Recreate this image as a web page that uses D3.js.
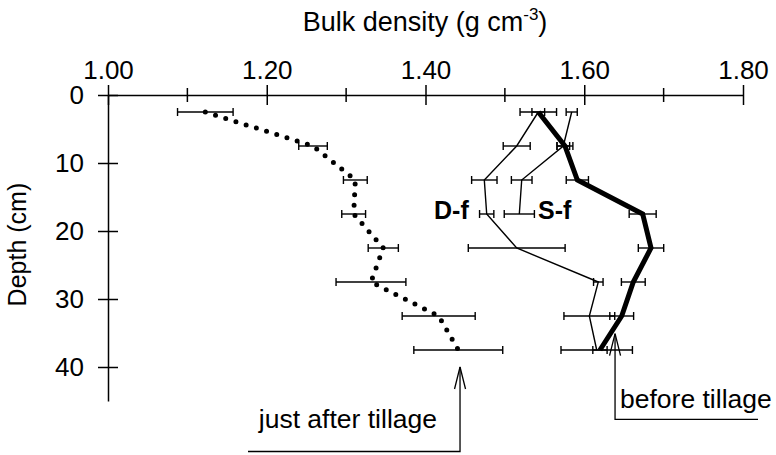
<!DOCTYPE html>
<head>
  <style>
    body { margin: 0; background: #fff; }
    text { font-family: "Liberation Sans", Arial, sans-serif; fill: #000; }
  </style>
<title>Bulk density by depth</title>
</head>

<body>

  <script type="text/javascript" src="https://cdn.jsdelivr.net/npm/d3@7/dist/d3.min.js"></script>

  <script type="text/javascript">
    // dimensions
    var w = 776;
    var h = 455;

    // data: depth (cm) and bulk density (g cm-3) with error (half width)
    var depths = [2.5, 7.5, 12.5, 17.5, 22.5, 27.5, 32.5, 37.5];

    var afterTillage = [1.1226, 1.2583, 1.3116, 1.3095, 1.3468, 1.3313, 1.4166, 1.4413];
    var afterErr     = [0.035, 0.018, 0.015, 0.015, 0.019, 0.044, 0.046, 0.056];

    var beforeTillage = [1.5421, 1.5757, 1.5913, 1.6736, 1.6841, 1.6618, 1.6472, 1.6198];
    var beforeErr     = [0.008, 0.010, 0.014, 0.017, 0.016, 0.015, 0.015, 0.009];

    var dfValues = [1.5421, 1.5149, 1.4741, 1.4771, 1.5149, 1.6177, 1.6064, 1.6157];
    var dfErr    = [0.023, 0.017, 0.016, 0.009, 0.061, 0.006, 0.032, 0.045];

    var sfDepths = [2.5, 7.5, 12.5, 17.5];
    var sfValues = [1.5842, 1.5736, 1.5212, 1.5182];
    var sfErr    = [0.007, 0.008, 0.013, 0.019];

    var xMajor = [1.0, 1.2, 1.4, 1.6, 1.8];
    var xMinor = [1.1, 1.3, 1.5, 1.7];
    var yTicks = [0, 10, 20, 30, 40];

    // scales
    var x = d3.scaleLinear().domain([1.0, 1.8]).range([108, 743]);
    var y = d3.scaleLinear().domain([0, 45]).range([95, 401]);

    var svg = d3.select("body")
                .append("svg")
                .attr("width", w)
                .attr("height", h);

    function zipSeries(ds, vals, errs) {
      return ds.map(function(d, i) { return {depth: d, value: vals[i], err: errs[i]}; });
    }

    var after = zipSeries(depths, afterTillage, afterErr);
    var before = zipSeries(depths, beforeTillage, beforeErr);
    var df = zipSeries(depths, dfValues, dfErr);
    var sf = zipSeries(sfDepths, sfValues, sfErr);

    // X axis on top, ticks crossing the line
    var xAxis = d3.axisTop(x)
                  .tickValues(xMajor)
                  .tickFormat(d3.format(".2f"))
                  .tickSize(10)
                  .tickSizeOuter(0)
                  .tickPadding(6);
    var gx = svg.append("g")
        .attr("transform", "translate(0," + y(0) + ")")
        .call(xAxis);
    gx.selectAll(".tick line").attr("y2", -10).attr("y1", 10).attr("stroke-width", 1.5);
    gx.select(".domain").attr("stroke-width", 1.5);
    gx.selectAll("text").attr("font-size", 26).attr("font-family", "Liberation Sans, Arial, sans-serif");

    gx.selectAll(".minor")
      .data(xMinor)
      .enter()
      .append("line")
      .attr("x1", function(d) { return x(d); })
      .attr("x2", function(d) { return x(d); })
      .attr("y1", -7)
      .attr("y2", 7)
      .attr("stroke", "#000")
      .attr("stroke-width", 1.5);

    // Y axis, ticks crossing the line
    var yAxis = d3.axisLeft(y)
                  .tickValues(yTicks)
                  .tickSize(10)
                  .tickSizeOuter(0)
                  .tickPadding(14);
    var gy = svg.append("g")
        .attr("transform", "translate(" + x(1.0) + ",0)")
        .call(yAxis);
    gy.selectAll(".tick line").attr("x1", 10).attr("stroke-width", 1.5);
    gy.select(".domain").attr("stroke-width", 1.5);
    gy.selectAll("text").attr("font-size", 26).attr("font-family", "Liberation Sans, Arial, sans-serif");

    // axis titles
    var title = svg.append("text")
        .attr("x", 425)
        .attr("y", 31)
        .attr("text-anchor", "middle")
        .attr("font-size", 27);
    title.append("tspan").text("Bulk density (g cm");
    title.append("tspan").attr("font-size", 17).attr("dy", -11).text("-3");
    title.append("tspan").attr("dy", 11).text(")");

    svg.append("text")
        .attr("transform", "translate(26," + y(22) + ") rotate(-90)")
        .attr("text-anchor", "middle")
        .attr("font-size", 25)
        .text("Depth (cm)");

    // error bars
    function errorBars(data) {
      var g = svg.append("g").attr("stroke", "#000").attr("stroke-width", 1.4).attr("fill", "none");
      g.selectAll("line.bar")
        .data(data).enter().append("line")
        .attr("x1", function(d) { return x(d.value - d.err); })
        .attr("x2", function(d) { return x(d.value + d.err); })
        .attr("y1", function(d) { return y(d.depth); })
        .attr("y2", function(d) { return y(d.depth); });
      g.selectAll("line.capl")
        .data(data).enter().append("line")
        .attr("x1", function(d) { return x(d.value - d.err); })
        .attr("x2", function(d) { return x(d.value - d.err); })
        .attr("y1", function(d) { return y(d.depth) - 4; })
        .attr("y2", function(d) { return y(d.depth) + 4; });
      g.selectAll("line.capr")
        .data(data).enter().append("line")
        .attr("x1", function(d) { return x(d.value + d.err); })
        .attr("x2", function(d) { return x(d.value + d.err); })
        .attr("y1", function(d) { return y(d.depth) - 4; })
        .attr("y2", function(d) { return y(d.depth) + 4; });
    }
    errorBars(after);
    errorBars(df);
    errorBars(sf);
    errorBars(before);

    var line = d3.line()
                 .x(function(d) { return x(d.value); })
                 .y(function(d) { return y(d.depth); });

    // just after tillage: dotted
    svg.append("path")
       .datum(after)
       .attr("d", line)
       .attr("fill", "none")
       .attr("stroke", "#000")
       .attr("stroke-width", 5)
       .attr("stroke-linecap", "round")
       .attr("stroke-dasharray", "0,10.7");

    svg.append("path")
       .datum(df)
       .attr("d", line)
       .attr("fill", "none")
       .attr("stroke", "#000")
       .attr("stroke-width", 1.4);

    svg.append("path")
       .datum(sf)
       .attr("d", line)
       .attr("fill", "none")
       .attr("stroke", "#000")
       .attr("stroke-width", 1.4);

    // before tillage: thick
    svg.append("path")
       .datum(before)
       .attr("d", line)
       .attr("fill", "none")
       .attr("stroke", "#000")
       .attr("stroke-width", 5);

    // series labels
    svg.append("text").attr("x", 434).attr("y", 219)
       .attr("font-size", 25).attr("font-weight", "bold").text("D-f");
    svg.append("text").attr("x", 538).attr("y", 219)
       .attr("font-size", 25).attr("font-weight", "bold").text("S-f");

    // annotations with arrows
    function arrowNote(tipV, tipD, elbowY, endX, label, lx, ly, anchor) {
      var tx = x(tipV), ty = y(tipD);
      svg.append("polyline")
         .attr("points", [[endX, elbowY], [tx, elbowY], [tx, ty]].join(" "))
         .attr("fill", "none").attr("stroke", "#000").attr("stroke-width", 1.3);
      svg.append("polyline")
         .attr("points", [[tx - 5.5, ty + 22], [tx, ty], [tx + 5.5, ty + 22]].join(" "))
         .attr("fill", "none").attr("stroke", "#000").attr("stroke-width", 1.3);
      svg.append("text").attr("x", lx).attr("y", ly)
         .attr("text-anchor", anchor)
         .attr("font-size", 26.5).text(label);
    }
    arrowNote(1.4435, 40, 451.5, 248, "just after tillage", 437, 428, "end");
    arrowNote(1.6388, 35.1, 419.3, 758, "before tillage", 620, 408, "start");

  </script>

</body>
